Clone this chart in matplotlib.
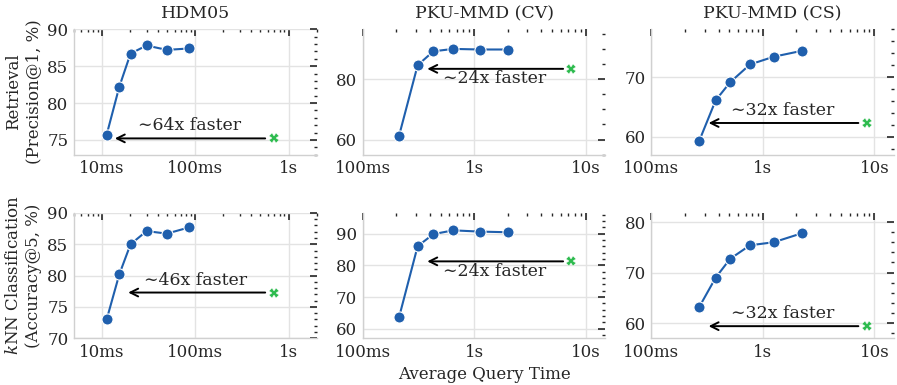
import numpy as np
import matplotlib
matplotlib.use("Agg")
import matplotlib.pyplot as plt
from matplotlib.ticker import FuncFormatter, AutoMinorLocator, LogLocator, NullFormatter

plt.rcParams["font.family"] = ["DejaVu Serif", "DejaVu Sans"]
plt.rcParams["mathtext.fontset"] = "dejavuserif"
plt.rcParams["font.size"] = 12

# query times (seconds) and scores per dataset
hdm_t = [0.0112, 0.0153, 0.0202, 0.030, 0.0495, 0.0863]
hdm_ret = [75.7, 82.2, 86.7, 87.8, 87.2, 87.4]
hdm_knn = [73.0, 80.2, 85.0, 87.1, 86.7, 87.7]

cv_t = [0.212, 0.311, 0.43, 0.649, 1.125, 1.99]
cv_ret = [61.3, 84.6, 89.2, 90.0, 89.8, 89.8]
cv_knn = [63.7, 86.1, 89.9, 91.1, 90.7, 90.5]

cs_t = [0.267, 0.377, 0.507, 0.765, 1.25, 2.25]
cs_ret = [59.2, 66.1, 69.1, 72.1, 73.4, 74.4]
cs_knn = [63.1, 69.0, 72.7, 75.4, 76.0, 77.8]

# baseline (green cross): time, retrieval, knn, speed-up factors
base_t = [0.69, 7.45, 8.53]
base_ret = [75.2, 83.4, 62.3]
base_knn = [77.3, 81.3, 59.4]
speedup_ret = [64, 24, 32]
speedup_knn = [46, 24, 32]

titles = ["HDM05", "PKU-MMD (CV)", "PKU-MMD (CS)"]
row_labels = ["Retrieval\n(Precision@1, %)", "$k$NN Classification\n(Accuracy@5, %)"]

xlims = [(0.005, 2.0), (0.1, 15.0), (0.1, 15.0)]
ylims = [[(73, 90), (55, 96.5), (57, 78)],
         [(70, 90), (57, 96.6), (57, 81.8)]]
yticks = [[[75, 80, 85, 90], [60, 80], [60, 70]],
          [[70, 75, 80, 85, 90], [60, 70, 80, 90], [60, 70, 80]]]
text_above = [[True, False, True], [True, False, True]]

times = [hdm_t, cv_t, cs_t]
scores = [[hdm_ret, cv_ret, cs_ret], [hdm_knn, cv_knn, cs_knn]]
base_scores = [base_ret, base_knn]
speedups = [speedup_ret, speedup_knn]

blue = "#1f5fad"
green = "#2dbb4e"
dark = "#262626"


def fmt_time(v, pos):
    if v < 1:
        return f"{v * 1000:g}ms"
    return f"{v:g}s"


fig, axes = plt.subplots(2, 3, figsize=(8.97, 3.85), dpi=100)
fig.subplots_adjust(left=0.0825, right=0.9967, top=0.924, bottom=0.1213,
                    wspace=0.19, hspace=0.465)

for r in range(2):
    for c in range(3):
        ax = axes[r, c]
        ax.set_xscale("log")
        ax.grid(True, which="major", color="#e3e3e3", linewidth=1.0)
        ax.set_axisbelow(True)
        for s in ["top", "right"]:
            ax.spines[s].set_visible(False)
        for s in ["left", "bottom"]:
            ax.spines[s].set_color("#d0d0d0")
            ax.spines[s].set_linewidth(1.0)

        ax.plot(times[c], scores[r][c], "-o", color=blue, lw=1.5, ms=8,
                mec="white", mew=0.8, zorder=3)
        bx, by = base_t[c], base_scores[r][c]
        ax.plot(bx, by, "X", color=green, ms=7, mec="white", mew=0.3, zorder=3)

        # arrow from the baseline to baseline_time / speedup
        target = bx / speedups[r][c]
        ax.annotate("", xy=(target, by), xytext=(bx, by),
                    arrowprops=dict(arrowstyle="->", color="black", lw=1.4,
                                    shrinkA=6, shrinkB=7, mutation_scale=14))
        off = 9 if text_above[r][c] else -7
        ax.annotate(f"\u223c{speedups[r][c]}x faster",
                    xy=(np.sqrt(bx * target), by), xytext=(0, off),
                    textcoords="offset points", ha="center", va="center",
                    fontsize=12.5, color=dark)

        ax.set_xlim(*xlims[c])
        ax.set_ylim(*ylims[r][c])
        ax.set_yticks(yticks[r][c])
        ax.yaxis.set_minor_locator(AutoMinorLocator())
        ax.xaxis.set_major_locator(LogLocator(base=10))
        ax.xaxis.set_minor_locator(LogLocator(base=10, subs=np.arange(2, 10)))
        ax.xaxis.set_major_formatter(FuncFormatter(fmt_time))
        ax.xaxis.set_minor_formatter(NullFormatter())

        ax.tick_params(which="both", left=False, bottom=False, top=True,
                       right=True, direction="in", colors=dark,
                       labelsize=12, pad=4)
        ax.tick_params(which="major", length=5, width=1.2)
        ax.tick_params(which="minor", length=2.5, width=1.0)

        if r == 0:
            ax.set_title(titles[c], fontsize=12.5, color=dark, pad=8)
        if c == 0:
            ax.set_ylabel(row_labels[r], fontsize=12, color=dark, labelpad=4)

axes[1, 1].set_xlabel("Average Query Time", fontsize=12, color=dark)

fig.savefig("out.png", dpi=100)
